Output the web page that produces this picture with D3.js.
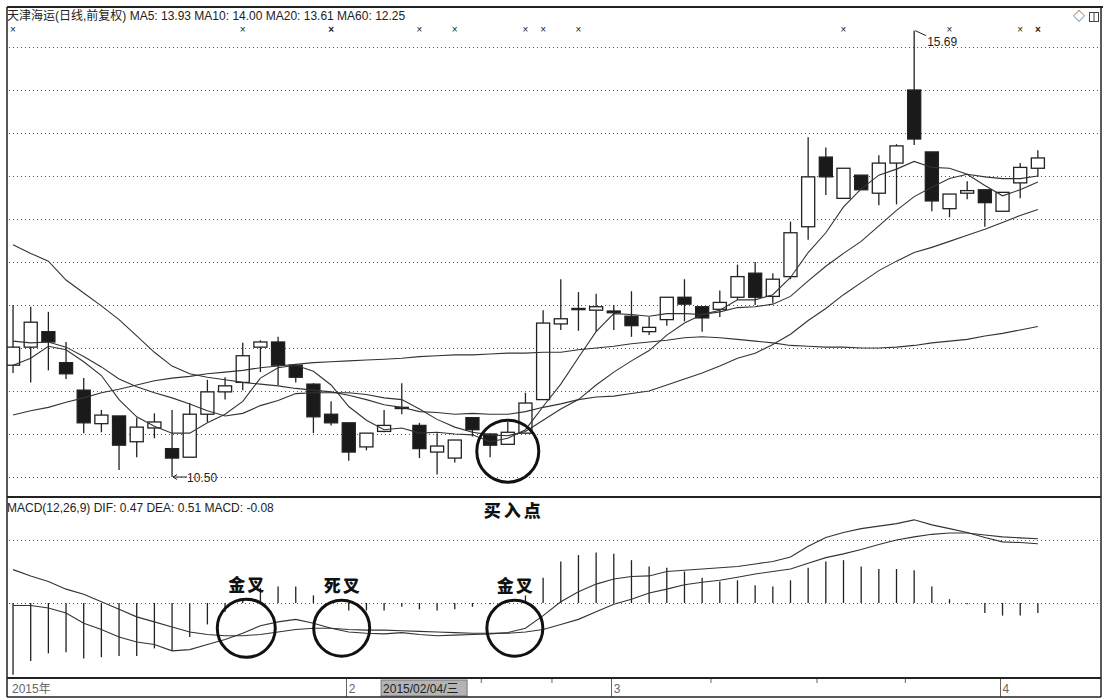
<!DOCTYPE html>
<html>
<head>
<meta charset="utf-8">
<script src="https://cdn.jsdelivr.net/npm/d3@7"></script>
<style>
  body { margin: 0; background: #fff; }
  svg { display: block; }
  text { font-family: "Liberation Sans", Arial, "Noto Sans CJK SC", sans-serif; }
  .cjk { font-family: "Noto Sans CJK SC", sans-serif; }
</style>
</head>
<body>
<div id="chart"></div>
<script>
// ---- data ----
const dates = ["01/06","01/07","01/08","01/09","01/12","01/13","01/14","01/15","01/16","01/19",
  "01/20","01/21","01/22","01/23","01/26","01/27","01/28","01/29","01/30","02/02",
  "02/03","02/04","02/05","02/06","02/09","02/10","02/11","02/12","02/13","02/16",
  "02/17","02/25","02/26","02/27","03/02","03/03","03/04","03/05","03/06","03/09",
  "03/10","03/11","03/12","03/13","03/16","03/17","03/18","03/19","03/20","03/23",
  "03/24","03/25","03/26","03/27","03/30","03/31","04/01","04/02","04/03"];

const open = [11.80,12.01,12.19,11.83,11.51,11.12,11.21,10.91,11.07,10.83,
  10.73,11.23,11.49,11.60,12.01,12.07,11.80,11.58,11.23,11.13,
  10.85,11.03,11.31,11.10,10.79,10.72,11.19,11.00,10.88,11.01,
  11.40,12.28,12.45,12.44,12.43,12.37,12.19,12.33,12.59,12.48,
  12.45,12.59,12.87,12.60,12.83,13.41,14.22,13.74,14.01,13.80,
  14.15,15.00,14.28,13.62,13.80,13.84,13.59,13.92,14.09];
const high = [12.50,12.48,12.42,12.07,11.65,11.28,11.21,11.19,11.24,11.28,
  11.36,11.63,11.66,12.06,12.09,12.13,11.80,11.59,11.38,11.13,
  11.01,11.28,11.59,11.13,11.01,10.93,11.19,11.01,11.14,11.48,
  12.44,12.80,12.65,12.63,12.50,12.66,12.36,12.59,12.80,12.48,
  12.67,12.97,13.00,12.87,13.47,14.45,14.33,14.09,14.01,14.24,
  14.37,15.69,14.28,13.79,13.94,13.84,13.81,14.15,14.30];
const low = [11.71,11.60,11.74,11.64,11.01,11.02,10.58,10.73,10.95,10.50,
  10.73,11.14,11.40,11.51,11.72,11.57,11.60,11.01,11.10,10.69,
  10.81,11.02,11.23,10.72,10.53,10.67,10.97,10.73,10.88,11.01,
  11.40,12.21,12.20,12.19,12.21,12.13,12.15,12.26,12.31,12.19,
  12.36,12.56,12.50,12.52,12.80,13.26,13.78,13.74,13.84,13.66,
  13.67,14.36,13.59,13.52,13.73,13.41,13.59,13.74,13.99];
const close = [12.01,12.30,12.07,11.70,11.13,11.22,10.87,11.08,11.14,10.72,
  11.23,11.49,11.56,11.91,12.07,11.80,11.66,11.20,11.13,10.79,
  11.01,11.10,11.30,10.83,10.86,10.93,11.05,10.87,11.02,11.36,
  12.29,12.34,12.46,12.48,12.41,12.26,12.24,12.59,12.51,12.35,
  12.53,12.83,12.59,12.80,13.34,13.99,13.99,14.09,13.84,14.15,
  14.35,14.43,13.71,13.79,13.83,13.69,13.81,14.10,14.21];

const ma5 = [11.80,11.88,12.02,11.98,11.84,11.68,11.40,11.20,11.09,11.01,
  11.01,11.13,11.23,11.38,11.65,11.77,11.80,11.73,11.57,11.32,
  11.16,11.05,11.07,11.01,11.02,11.00,10.99,10.91,10.95,11.05,
  11.32,11.58,11.89,12.19,12.40,12.39,12.37,12.40,12.40,12.39,
  12.44,12.56,12.56,12.62,12.82,13.11,13.34,13.64,13.85,14.01,
  14.08,14.17,14.10,14.09,14.02,13.89,13.77,13.84,13.93];
const ma10 = [12.08,12.06,12.07,12.01,11.90,11.78,11.64,11.55,11.48,11.42,
  11.35,11.27,11.21,11.24,11.33,11.39,11.47,11.48,11.48,11.48,
  11.46,11.42,11.40,11.29,11.17,11.08,11.02,10.99,10.98,11.03,
  11.16,11.29,11.40,11.57,11.72,11.85,11.97,12.15,12.29,12.39,
  12.42,12.47,12.48,12.51,12.60,12.78,12.95,13.10,13.24,13.42,
  13.60,13.76,13.87,13.97,14.02,13.99,13.97,13.97,14.00];
const ma20 = [13.20,13.10,13.01,12.79,12.64,12.49,12.33,12.14,11.95,11.79,
  11.70,11.66,11.63,11.60,11.58,11.56,11.53,11.51,11.49,11.45,
  11.40,11.34,11.31,11.26,11.25,11.23,11.24,11.23,11.23,11.26,
  11.31,11.35,11.40,11.43,11.44,11.47,11.50,11.57,11.64,11.71,
  11.79,11.88,11.94,12.04,12.16,12.32,12.46,12.62,12.76,12.90,
  13.01,13.11,13.17,13.24,13.31,13.38,13.46,13.54,13.61];
const ma60 = [11.22,11.27,11.31,11.37,11.42,11.48,11.52,11.57,11.62,11.65,
  11.67,11.70,11.72,11.74,11.77,11.79,11.81,11.83,11.84,11.85,
  11.86,11.87,11.88,11.90,11.91,11.92,11.92,11.93,11.94,11.94,
  11.95,11.95,11.98,12.00,12.02,12.05,12.07,12.09,12.12,12.13,
  12.12,12.10,12.08,12.06,12.03,12.02,12.01,12.01,12.00,12.00,
  12.01,12.03,12.06,12.08,12.10,12.14,12.17,12.21,12.25];

const dif = [-0.02,-0.02,-0.04,-0.08,-0.16,-0.21,-0.27,-0.31,-0.33,-0.38,
  -0.37,-0.33,-0.29,-0.24,-0.18,-0.15,-0.13,-0.16,-0.20,-0.23,
  -0.24,-0.245,-0.235,-0.25,-0.26,-0.255,-0.25,-0.245,-0.235,-0.20,
  -0.10,0.01,0.09,0.15,0.19,0.21,0.215,0.25,0.26,0.27,
  0.28,0.29,0.31,0.33,0.365,0.45,0.52,0.56,0.59,0.61,
  0.63,0.66,0.62,0.59,0.56,0.52,0.485,0.48,0.47];
const dea = [0.265,0.215,0.17,0.11,0.07,0.01,-0.05,-0.11,-0.15,-0.19,
  -0.23,-0.25,-0.26,-0.26,-0.25,-0.23,-0.21,-0.20,-0.20,-0.21,
  -0.215,-0.215,-0.22,-0.225,-0.23,-0.235,-0.24,-0.24,-0.24,-0.23,
  -0.21,-0.17,-0.13,-0.07,-0.01,0.03,0.08,0.11,0.145,0.165,
  0.18,0.205,0.23,0.25,0.27,0.315,0.36,0.39,0.425,0.465,
  0.50,0.525,0.545,0.555,0.555,0.54,0.525,0.517,0.51];
const macd = [-0.57,-0.46,-0.40,-0.39,-0.44,-0.43,-0.42,-0.42,-0.36,-0.38,
  -0.27,-0.17,-0.07,0.03,0.12,0.13,0.13,0.06,0.00,-0.06,
  -0.06,-0.06,-0.03,-0.05,-0.06,-0.05,-0.03,-0.01,0.02,0.06,
  0.20,0.33,0.38,0.40,0.39,0.34,0.29,0.28,0.25,0.20,
  0.17,0.18,0.14,0.13,0.18,0.28,0.33,0.34,0.29,0.27,
  0.27,0.26,0.13,0.03,-0.01,-0.08,-0.10,-0.10,-0.08];

const priceTicks = [10.5, 11, 11.5, 12, 12.5, 13, 13.5, 14, 14.5, 15, 15.5];
const macdTicks = [0, 0.5];
const markIdx = [0, 13, 18, 23, 25, 29, 30, 32, 47, 53, 57, 58];
const markBold = [18, 58];
const axisTickIdx = [27, 31, 40, 46, 51];
const cursorDate = "02/04";
const cursorLabel = "2015/02/04/三";
const titleText = "天津海运(日线,前复权) MA5: 13.93 MA10: 14.00 MA20: 13.61 MA60: 12.25";
const macdText = "MACD(12,26,9) DIF: 0.47 DEA: 0.51 MACD: -0.08";
// circled spots: main panel (index, price) and MACD panel (index, value)
const mainCircles = [{ i: 28, v: 10.80, r: 31 }];
const macdCircles = [
  { i: 13.2, v: -0.20, r: 29, label: "金叉" },
  { i: 18.6, v: -0.20, r: 28, label: "死叉" },
  { i: 28.4, v: -0.20, r: 28, label: "金叉" }
];

// ---- layout ----
const W = 1105, H = 700;
const L = 7, R = 1101, TOP = 7, MAIN_B = 497, MACD_B = 678, AX_B = 697;
const ink = "#222";

const svg = d3.select("#chart").append("svg").attr("width", W).attr("height", H);

const x = d3.scaleBand().domain(d3.range(dates.length)).range([4.2, 1046.7]);
const bw = x.bandwidth();
const xc = i => x(i) + bw / 2;
const xf = i => x(0) + bw / 2 + i * x.step();  // fractional index
const y = d3.scaleLinear().domain([10.5, 15.5]).range([477, 47]);
const ym = d3.scaleLinear().domain([0, 0.5]).range([603, 540]);

svg.append("clipPath").attr("id", "clipMain")
  .append("rect").attr("x", L).attr("y", TOP).attr("width", R - L).attr("height", MAIN_B - TOP);
svg.append("clipPath").attr("id", "clipMacd")
  .append("rect").attr("x", L).attr("y", MAIN_B).attr("width", R - L).attr("height", MACD_B - MAIN_B);

// grid
const grid = svg.append("g").attr("stroke", "#555").attr("stroke-dasharray", "1,3").attr("stroke-width", 1);
grid.selectAll(".gp").data(priceTicks).enter().append("line")
  .attr("x1", L + 2).attr("x2", R - 2).attr("y1", d => Math.round(y(d)) + 0.5).attr("y2", d => Math.round(y(d)) + 0.5);
grid.selectAll(".gm").data(macdTicks).enter().append("line")
  .attr("x1", L + 2).attr("x2", R - 2).attr("y1", d => Math.round(ym(d)) + 0.5).attr("y2", d => Math.round(ym(d)) + 0.5);

// candles
const main = svg.append("g").attr("clip-path", "url(#clipMain)");
const cdl = main.selectAll(".c").data(dates).enter().append("g");
cdl.append("line")
  .attr("x1", (d, i) => xc(i)).attr("x2", (d, i) => xc(i))
  .attr("y1", (d, i) => y(high[i])).attr("y2", (d, i) => y(low[i]))
  .attr("stroke", ink).attr("stroke-width", 1.3);
cdl.append("rect")
  .attr("x", (d, i) => xc(i) - bw * 0.37)
  .attr("width", bw * 0.74)
  .attr("y", (d, i) => y(Math.max(open[i], close[i])))
  .attr("height", (d, i) => Math.max(1.2, Math.abs(y(open[i]) - y(close[i]))))
  .attr("fill", (d, i) => close[i] >= open[i] ? "#fff" : "#1a1a1a")
  .attr("stroke", ink).attr("stroke-width", 1.3);

// moving averages
const maLine = d3.line().x((d, i) => xc(i)).y(d => y(d));
[ma5, ma10, ma20, ma60].forEach(s => {
  main.append("path").attr("d", maLine(s)).attr("fill", "none").attr("stroke", "#333").attr("stroke-width", 1.1);
});

// high / low labels
const hi = d3.maxIndex(high), lo = d3.minIndex(low);
svg.append("path")
  .attr("d", `M${xc(hi) + 1},${y(high[hi])} L${xc(hi) + 12},${y(high[hi]) + 5}`)
  .attr("stroke", ink).attr("fill", "none");
svg.append("text").attr("x", xc(hi) + 13).attr("y", y(high[hi]) + 15)
  .attr("font-size", 12).attr("fill", ink).text(high[hi].toFixed(2));
svg.append("path")
  .attr("d", `M${xc(lo) + 1},${y(low[lo])} L${xc(lo) + 15},${y(low[lo])} M${xc(lo) + 1},${y(low[lo])} l4,-2.5 M${xc(lo) + 1},${y(low[lo])} l4,2.5`)
  .attr("stroke", ink).attr("fill", "none");
svg.append("text").attr("x", xc(lo) + 15).attr("y", y(low[lo]) + 5)
  .attr("font-size", 12).attr("fill", ink).text(low[lo].toFixed(2));

// marks on top row
svg.selectAll(".mk").data(markIdx).enter().append("text")
  .attr("x", i => xc(i)).attr("y", 33).attr("text-anchor", "middle")
  .attr("font-size", 10)
  .attr("font-weight", i => markBold.includes(i) ? "bold" : "normal")
  .attr("fill", ink).text("×");

// main circles
svg.selectAll(".mc").data(mainCircles).enter().append("circle")
  .attr("cx", d => xf(d.i)).attr("cy", d => y(d.v)).attr("r", d => d.r)
  .attr("fill", "none").attr("stroke", "#111").attr("stroke-width", 3);

// MACD panel
const mp = svg.append("g").attr("clip-path", "url(#clipMacd)");
mp.selectAll(".mb").data(macd).enter().append("line")
  .attr("x1", (d, i) => xc(i)).attr("x2", (d, i) => xc(i))
  .attr("y1", ym(0)).attr("y2", d => ym(d))
  .attr("stroke", ink).attr("stroke-width", 1.3);
const mLine = d3.line().x((d, i) => xc(i)).y(d => ym(d));
[dif, dea].forEach(s => {
  mp.append("path").attr("d", mLine(s)).attr("fill", "none").attr("stroke", "#333").attr("stroke-width", 1.1);
});
svg.selectAll(".kc").data(macdCircles).enter().append("circle")
  .attr("cx", d => xf(d.i)).attr("cy", d => ym(d.v)).attr("r", d => d.r)
  .attr("fill", "none").attr("stroke", "#111").attr("stroke-width", 3);
svg.selectAll(".kl").data(macdCircles).enter().append("text")
  .attr("class", "cjk")
  .attr("x", d => xf(d.i) + 1).attr("y", d => ym(d.v) - d.r - 8)
  .attr("text-anchor", "middle").attr("font-size", 17).attr("font-weight", 900)
  .attr("letter-spacing", 2).attr("fill", "#111").text(d => d.label);
svg.append("text").attr("class", "cjk")
  .attr("x", xf(mainCircles[0].i) + 6).attr("y", MAIN_B + 20)
  .attr("text-anchor", "middle").attr("font-size", 17).attr("font-weight", 900)
  .attr("letter-spacing", 3).attr("fill", "#111").text("买入点");

// titles
svg.append("text").attr("x", L).attr("y", 20).attr("font-size", 12).attr("fill", ink).text(titleText);
svg.append("text").attr("x", L).attr("y", MAIN_B + 15).attr("font-size", 12).attr("fill", ink).text(macdText);

// icons top right
svg.append("text").attr("x", 1073).attr("y", 21).attr("font-size", 12).attr("fill", "#444").text("◇");
svg.append("rect").attr("x", 1089.5).attr("y", 12.5).attr("width", 9).attr("height", 9).attr("fill", "none").attr("stroke", "#444");
svg.append("line").attr("x1", 1094).attr("x2", 1094).attr("y1", 12.5).attr("y2", 21.5).attr("stroke", "#444");

// time axis
const ax = svg.append("g");
const monthStarts = dates.map((d, i) => i).filter(i => i > 0 && dates[i].slice(0, 2) !== dates[i - 1].slice(0, 2));
ax.append("text").attr("x", 12).attr("y", 693).attr("font-size", 12).attr("fill", "#666").text("2015年");
ax.selectAll(".ms").data(monthStarts).enter().append("line")
  .attr("x1", i => Math.round(xc(i)) - 2.5).attr("x2", i => Math.round(xc(i)) - 2.5)
  .attr("y1", MACD_B).attr("y2", AX_B).attr("stroke", "#666");
ax.selectAll(".ml").data(monthStarts).enter().append("text")
  .attr("x", i => xc(i)).attr("y", 693).attr("font-size", 12).attr("fill", "#666")
  .text(i => String(+dates[i].slice(0, 2)));
ax.selectAll(".at").data(axisTickIdx).enter().append("line")
  .attr("x1", i => x(i)).attr("x2", i => x(i)).attr("y1", MACD_B).attr("y2", MACD_B + 5)
  .attr("stroke", "#666");
const ci = dates.indexOf(cursorDate);
ax.append("rect").attr("x", xc(ci) - 3).attr("y", 680).attr("width", 86).attr("height", 16)
  .attr("fill", "#b4b4b4").attr("stroke", "#777");
ax.append("text").attr("x", xc(ci) - 1).attr("y", 693).attr("font-size", 12).attr("fill", "#222").text(cursorLabel);

// frame
const fr = svg.append("g").attr("stroke", "#222").attr("fill", "none");
fr.append("line").attr("x1", L).attr("x2", W - 2).attr("y1", TOP).attr("y2", TOP).attr("stroke-width", 2);
fr.append("line").attr("x1", L).attr("x2", L).attr("y1", TOP).attr("y2", AX_B).attr("stroke-width", 1.5);
fr.append("line").attr("x1", R).attr("x2", R).attr("y1", TOP).attr("y2", AX_B).attr("stroke-width", 1.5);
fr.append("line").attr("x1", L).attr("x2", R).attr("y1", MAIN_B).attr("y2", MAIN_B).attr("stroke-width", 2);
fr.append("line").attr("x1", L).attr("x2", R).attr("y1", MACD_B).attr("y2", MACD_B).attr("stroke-width", 2);
fr.append("line").attr("x1", L).attr("x2", R).attr("y1", AX_B).attr("y2", AX_B).attr("stroke-width", 1.5);
</script>
</body>
</html>
